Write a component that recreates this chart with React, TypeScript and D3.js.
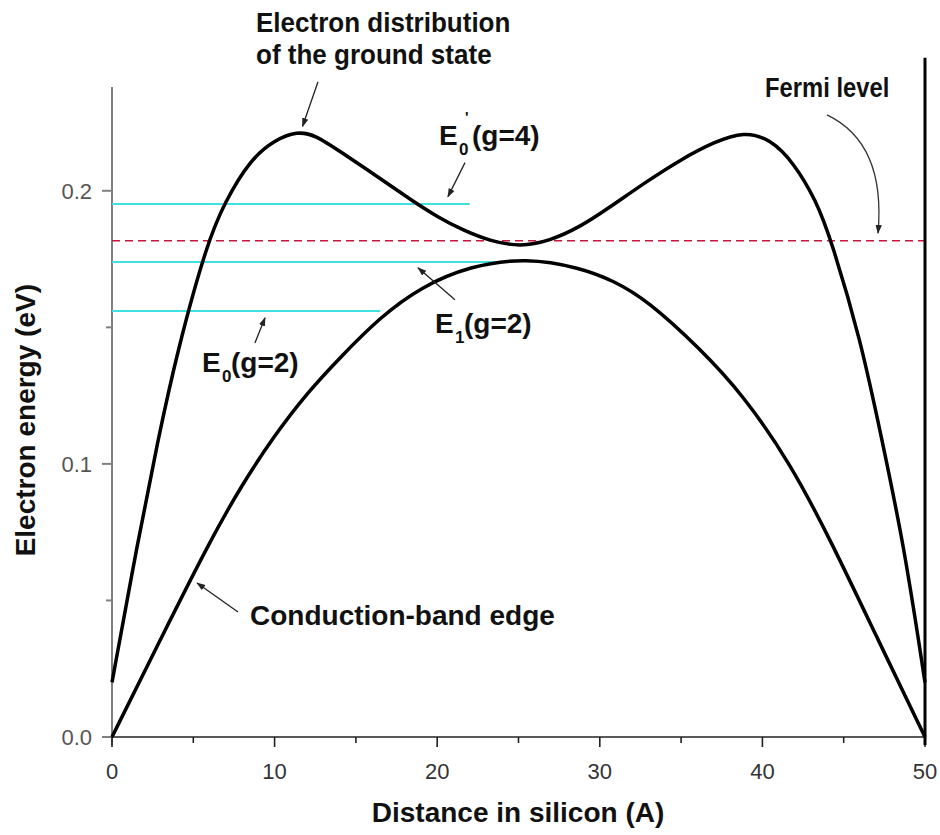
import * as d3 from 'd3'

// ground-state electron distribution (Å, eV)
const groundX = [0, 1.6, 2.8, 4.0, 5.85, 6.95, 8.5, 10, 11.4, 12.5, 14, 16.5, 18.5, 20, 21.6, 23.3, 25.1, 26.9, 28.8, 30.5, 32.9, 35, 37, 38.9, 40.5, 41.9, 43.3, 44.2, 46.05, 47.35, 48.7, 50]
const groundE = [0.02, 0.072, 0.108, 0.141, 0.181, 0.196, 0.2114, 0.2186, 0.2218, 0.2204, 0.2145, 0.2045, 0.1962, 0.1905, 0.1855, 0.1815, 0.1795, 0.1816, 0.1868, 0.1935, 0.2035, 0.2115, 0.2178, 0.2218, 0.2188, 0.2105, 0.1965, 0.1825, 0.1454, 0.1088, 0.0705, 0.02]

// conduction-band edge
const bandX = [0, 3, 6, 8, 10, 12, 14, 16.5, 19, 22, 25.5, 28.8, 30.8, 32.9, 36.2, 38.8, 41.7, 44.2, 47, 50]
const bandE = [0, 0.036, 0.0715, 0.0925, 0.1105, 0.126, 0.1388, 0.1538, 0.1648, 0.1725, 0.1755, 0.1718, 0.1672, 0.16, 0.142, 0.1253, 0.1004, 0.072, 0.037, 0]

// subband levels
const levelE = [0.1952, 0.1739, 0.156]
const levelEnd = [22.0, 24.7, 16.5]
const fermiE = 0.1817
const wallX = 50
const wallTop = 0.2487

const xTicks = [0, 10, 20, 30, 40, 50]
const xMinor = [5, 15, 25, 35, 45]
const yTicks = [0, 0.1, 0.2]
const yMinor = [0.05, 0.15]

const W = 940, H = 835
const FONT = '"Liberation Sans", Arial, Helvetica, sans-serif'

export default function App() {
  const x = d3.scaleLinear().domain([0, 50]).range([112, 925])
  const y = d3.scaleLinear().domain([0, 0.238]).range([737, 87])

  const line = d3.line<[number, number]>().x(d => x(d[0])).y(d => y(d[1])).curve(d3.curveBasis)
  const ground = line(groundX.map((v, i) => [v, groundE[i]]))
  const band = line(bandX.map((v, i) => [v, bandE[i]]))

  // arrows in data units: [x1, y1, x2, y2]
  const arrows = [
    [12.67, 0.2399, 11.72, 0.2236],
    [21.71, 0.2103, 20.66, 0.1978],
    [21.09, 0.1601, 18.82, 0.1718],
    [8.79, 0.1443, 9.41, 0.1535],
    [7.75, 0.0458, 5.23, 0.0564],
  ]
  const fermiArrow = `M${x(43.97)},${y(0.2278)} Q${x(47.6)},${y(0.2175)} ${x(47.11)},${y(0.1845)}`

  const bold = { fontFamily: FONT, fontWeight: 700, fontSize: 28, fill: '#111' } as const
  const narrow = (px: number, py: number, k = 0.93) => `translate(${px},${py}) scale(${k},1)`

  return (
    <div style={{ position: 'fixed', left: 0, top: 0, background: '#fff' }}>
      <svg width={W} height={H} style={{ display: 'block' }}>
        <defs>
          <marker id="ah" viewBox="0 0 10 10" refX="9" refY="5" markerWidth="7" markerHeight="7" orient="auto">
            <path d="M0,1.5 L10,5 L0,8.5 z" fill="#222" />
          </marker>
        </defs>
        <rect width={W} height={H} fill="#fff" />

        {/* left axis (grey) */}
        <line x1={x(0)} x2={x(0)} y1={y(0) + 8} y2={y.range()[1]} stroke="#808080" strokeWidth={2} />
        {yTicks.map(t => (
          <g key={t}>
            <line x1={x(0) - 10} x2={x(0)} y1={y(t)} y2={y(t)} stroke="#808080" strokeWidth={2} />
            <text x={x(0) - 20} y={y(t)} dy="0.36em" textAnchor="end" fontFamily={FONT} fontSize={22} fill="#555">{t.toFixed(1)}</text>
          </g>
        ))}
        {yMinor.map(t => <line key={t} x1={x(0) - 6} x2={x(0)} y1={y(t)} y2={y(t)} stroke="#808080" strokeWidth={2} />)}

        {/* bottom axis */}
        <line x1={x(0)} x2={x(50)} y1={y(0)} y2={y(0)} stroke="#222" strokeWidth={1.6} />
        {xTicks.map(t => (
          <g key={t}>
            <line x1={x(t)} x2={x(t)} y1={y(0)} y2={y(0) + 10} stroke="#222" strokeWidth={1.6} />
            <text x={x(t)} y={779} textAnchor="middle" fontFamily={FONT} fontSize={22} fill="#333">{t}</text>
          </g>
        ))}
        {xMinor.map(t => <line key={t} x1={x(t)} x2={x(t)} y1={y(0)} y2={y(0) + 6} stroke="#222" strokeWidth={1.6} />)}

        {/* subband levels and Fermi level */}
        {levelE.map((e, i) => (
          <line key={i} x1={x(0)} x2={x(levelEnd[i])} y1={y(e)} y2={y(e)} stroke="#3ee0e0" strokeWidth={2} />
        ))}
        <line x1={x(0)} x2={x(50)} y1={y(fermiE)} y2={y(fermiE)} stroke="#c8173c" strokeWidth={1.6} strokeDasharray="8 5" />

        {/* curves */}
        <path d={band ?? ''} fill="none" stroke="#000" strokeWidth={3.5} strokeLinejoin="round" />
        <path d={ground ?? ''} fill="none" stroke="#000" strokeWidth={3.5} strokeLinejoin="round" />
        <line x1={x(wallX)} x2={x(wallX)} y1={y(0) + 8} y2={y(wallTop)} stroke="#000" strokeWidth={3} />

        {/* arrows */}
        {arrows.map((a, i) => (
          <line key={i} x1={x(a[0])} y1={y(a[1])} x2={x(a[2])} y2={y(a[3])} stroke="#222" strokeWidth={1.3} markerEnd="url(#ah)" />
        ))}
        <path d={fermiArrow} fill="none" stroke="#333" strokeWidth={1.3} markerEnd="url(#ah)" />

        {/* annotations */}
        <text transform={narrow(256, 32)} {...bold}>Electron distribution</text>
        <text transform={narrow(256, 64)} {...bold}>of the ground state</text>
        <text transform={narrow(765, 97, 0.85)} {...bold}>Fermi level</text>

        <text x={439} y={145} {...bold}>E</text>
        <text x={459} y={155} {...bold} fontSize={17}>0</text>
        <text x={465} y={122} {...bold} fontSize={15}>'</text>
        <text x={472} y={145} {...bold}>(g=4)</text>

        <text x={435} y={333} {...bold}>E</text>
        <text x={455} y={343} {...bold} fontSize={17}>1</text>
        <text x={464} y={333} {...bold}>(g=2)</text>

        <text x={202} y={372} {...bold}>E</text>
        <text x={222} y={382} {...bold} fontSize={17}>0</text>
        <text x={231} y={372} {...bold}>(g=2)</text>

        <text x={250} y={625} {...bold}>Conduction-band edge</text>

        {/* axis titles */}
        <text x={518} y={822} textAnchor="middle" {...bold}>Distance in silicon (A)</text>
        <text transform={`translate(35,${y(0.116)}) rotate(-90)`} textAnchor="middle" {...bold}>Electron energy (eV)</text>
      </svg>
    </div>
  )
}
